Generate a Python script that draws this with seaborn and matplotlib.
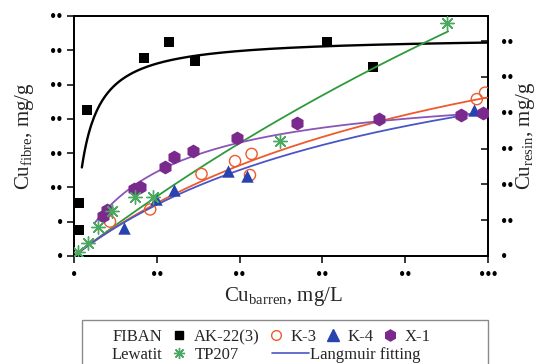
import numpy as np
import pandas as pd
import matplotlib
matplotlib.use("Agg")
import matplotlib.pyplot as plt
import seaborn as sns
from matplotlib.lines import Line2D
from matplotlib.patches import Rectangle

# ---------------- data ----------------
# FIBAN AK-22(3)  (left axis, Cu_fibre)
fiban_x = [1.2, 1.2, 3.1, 16.9, 22.9, 29.2, 61.1, 72.2]
fiban_y = [7.7, 3.8, 21.3, 28.9, 31.2, 28.4, 31.2, 27.6]
# resins (right axis, Cu_resin)
k3_x = [8.7, 18.4, 30.8, 38.9, 42.9, 42.5, 97.3, 99.3]
k3_y = [9.6, 13.0, 22.9, 26.5, 28.5, 22.6, 43.8, 45.6]
k4_x = [12.1, 19.8, 24.2, 37.3, 41.7, 96.5]
k4_y = [7.7, 15.8, 18.4, 23.7, 22.3, 40.8]
x1_x = [7.1, 7.9, 14.5, 15.9, 22.1, 24.2, 28.8, 39.3, 53.9, 73.7, 93.4, 98.9]
x1_y = [11.2, 12.8, 18.6, 19.2, 24.8, 27.6, 29.3, 33.0, 37.2, 38.2, 39.4, 40.0]
tp_x = [1.0, 3.5, 5.9, 9.2, 14.7, 19.2, 49.8, 90.2]
tp_y = [1.2, 3.5, 8.2, 12.7, 16.6, 16.6, 32.1, 65.0]

# Langmuir fitting parameters: (q_max, K, C_start, C_end)
fit_fiban = (32.0, 0.356, 1.9, 100.0)
fit_k3 = (88.6, 0.010, 0.0, 100.0)
fit_k4 = (74.0, 0.012, 0.0, 100.0)
fit_x1 = (48.5, 0.047, 5.0, 100.0)
fit_tp = (294.0, 0.003, 0.0, 90.4)

x_ticks = [0, 20, 40, 60, 80, 100]
yl_ticks = [0, 5, 10, 15, 20, 25, 30, 35]
yr_ticks = [0, 10, 20, 30, 40, 50, 60]

legend_labels = ["AK-22(3)", "K-3", "K-4", "X-1"]

# ---------------- styling ----------------
sns.set_style("ticks")
plt.rcParams['font.family'] = ['Liberation Serif', 'DejaVu Serif']
plt.rcParams['mathtext.fontset'] = 'custom'
plt.rcParams['mathtext.rm'] = 'Liberation Serif'
plt.rcParams['mathtext.it'] = 'Liberation Serif:italic'

C_BLACK = "#000000"
C_ORANGE = "#ee5a2c"
C_BLUE_M = "#2743b0"
C_BLUE_L = "#4a55c8"
C_PURP_M = "#7a2a8c"
C_PURP_L = "#8a55b8"
C_GREEN_L = "#2e9a3c"
C_GREEN_M = "#4aa860"


def langmuir(params):
    qm, K, c0, c1 = params
    c = np.linspace(c0, c1, 300)
    return pd.DataFrame({"C": c, "q": qm * K * c / (1 + K * c)})


fig = plt.figure(figsize=(5.4, 3.64), dpi=100)
ax = fig.add_axes([74 / 540, 108 / 364, 414 / 540, 240 / 364])
ax2 = ax.twinx()

# FIBAN on left axis
d = langmuir(fit_fiban)
sns.lineplot(data=d, x="C", y="q", ax=ax, color=C_BLACK, lw=1.7, estimator=None, sort=False)
sns.scatterplot(x=fiban_x, y=fiban_y, ax=ax, marker="s", s=50, color=C_BLACK,
                edgecolor=C_BLACK, linewidth=0, zorder=5)

# resins on right axis
for params, col in [(fit_tp, C_GREEN_L), (fit_k3, C_ORANGE), (fit_k4, C_BLUE_L), (fit_x1, C_PURP_L)]:
    d = langmuir(params)
    sns.lineplot(data=d, x="C", y="q", ax=ax2, color=col, lw=1.3, estimator=None, sort=False)

sns.scatterplot(x=k3_x, y=k3_y, ax=ax2, marker="o", s=65, facecolor="none",
                edgecolor=C_ORANGE, linewidth=1.0, zorder=5)
sns.scatterplot(x=k4_x, y=k4_y, ax=ax2, marker="^", s=80, color=C_BLUE_M,
                edgecolor=C_BLUE_M, linewidth=0, zorder=5)
sns.scatterplot(x=x1_x, y=x1_y, ax=ax2, marker="h", s=100, color=C_PURP_M,
                edgecolor=C_PURP_M, linewidth=0, zorder=5)
sns.scatterplot(x=tp_x, y=tp_y, ax=ax2, marker=(8, 2, 0), s=95, color=C_GREEN_M,
                edgecolor=C_GREEN_M, linewidth=1.0, zorder=5)

# axes limits & ticks
ax.set_xlim(0, 100)
ax.set_ylim(0, 35)
ax2.set_ylim(0, 67)


def dots(v):
    return "\u2022" * len(str(v))


ax.set_xticks(x_ticks)
ax.set_xticklabels([dots(v) for v in x_ticks])
ax.set_yticks(yl_ticks)
ax.set_yticklabels([dots(v) for v in yl_ticks])
ax2.set_yticks(yr_ticks)
ax2.set_yticklabels([dots(v) for v in yr_ticks])

ax.tick_params(axis="both", direction="out", length=5, width=1.1, labelsize=13, pad=3, colors="black")
ax.tick_params(axis="y", right=False)
ax2.tick_params(axis="y", direction="in", length=5, width=1.1, labelsize=13, pad=9, colors="black")

for a in (ax, ax2):
    for s in a.spines.values():
        s.set_visible(True)
        s.set_linewidth(1.3)
        s.set_color("black")

ax.set_xlabel("Cu$_{\\mathrm{barren}}$, mg/L", fontsize=15)
ax.xaxis.set_label_coords(0.505, -0.17)
ax.xaxis.label.set_va("center")
ax.set_ylabel("Cu$_{\\mathrm{fibre}}$, mg/g", fontsize=15)
ax.yaxis.set_label_coords(-0.12, 0.5)
ax.yaxis.label.set_va("center")
ax2.set_ylabel("Cu$_{\\mathrm{resin}}$, mg/g", fontsize=15, rotation=90)
ax2.yaxis.set_label_coords(1.09, 0.5)
ax2.yaxis.label.set_va("center")

# ---------------- legend ----------------
FS = 12
row1 = 1 - 337 / 364
row2 = 1 - 355 / 364
fig.text(162 / 540, row1, "FIBAN", ha="right", va="center", fontsize=FS)
fig.text(162 / 540, row2, "Lewatit", ha="right", va="center", fontsize=FS)

h_row1 = [
    Line2D([], [], ls="none", marker="s", ms=6, color=C_BLACK),
    Line2D([], [], ls="none", marker="o", ms=7, mfc="none", mec=C_ORANGE, mew=1.0),
    Line2D([], [], ls="none", marker="^", ms=8, color=C_BLUE_M),
    Line2D([], [], ls="none", marker="h", ms=8, color=C_PURP_M),
]
leg1 = fig.legend(h_row1, legend_labels, ncol=4, loc="center left",
                  bbox_to_anchor=(171 / 540, row1), bbox_transform=fig.transFigure,
                  frameon=False, fontsize=FS, handlelength=1.0, handletextpad=0.4,
                  columnspacing=0.45, borderpad=0, borderaxespad=0)
h_tp = [Line2D([], [], ls="none", marker=(8, 2, 0), ms=8, color=C_GREEN_M, mew=1.0)]
leg2 = fig.legend(h_tp, ["TP207"], loc="center left",
                  bbox_to_anchor=(171 / 540, row2), bbox_transform=fig.transFigure,
                  frameon=False, fontsize=FS, handlelength=1.0, handletextpad=0.4,
                  borderpad=0, borderaxespad=0)
h_fit = [Line2D([], [], color=C_BLUE_L, lw=1.2)]
leg3 = fig.legend(h_fit, ["Langmuir fitting"], loc="center left",
                  bbox_to_anchor=(272 / 540, row2), bbox_transform=fig.transFigure,
                  frameon=False, fontsize=FS, handlelength=2.2, handletextpad=0.1,
                  borderpad=0, borderaxespad=0)

fig.patches.append(Rectangle((82 / 540, -0.02), 406 / 540, 44 / 364 + 0.02,
                             transform=fig.transFigure, fill=False,
                             edgecolor="#8a8a8a", linewidth=1.0))

fig.savefig("out.png", dpi=100)
